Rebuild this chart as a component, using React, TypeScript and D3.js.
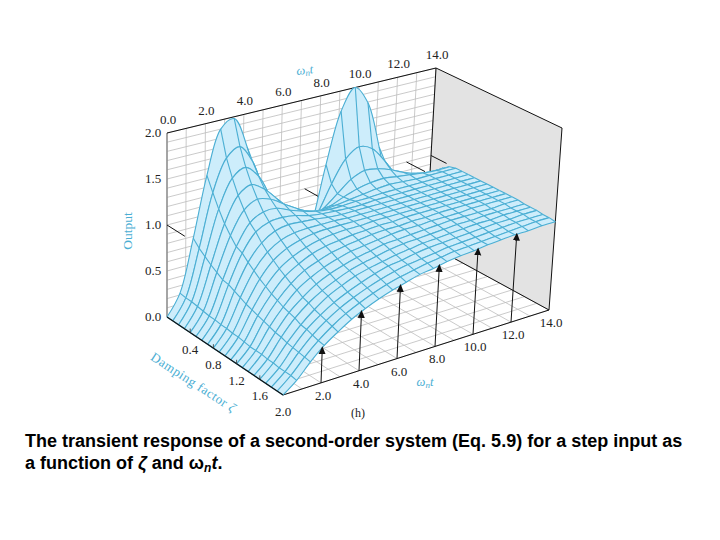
import * as d3 from 'd3';

const timeValues = [0, 0.7, 1.4, 2.1, 2.8, 3.5, 4.2, 4.9, 5.6, 6.3, 7, 7.7, 8.4, 9.1, 9.8, 10.5, 11.2, 11.9, 12.6, 13.3, 14];
const zetaValues = [0, 0.1, 0.2, 0.3, 0.4, 0.5, 0.6, 0.7, 0.8, 0.9, 1, 1.1, 1.2, 1.3, 1.4, 1.5, 1.6, 1.7, 1.8, 1.9, 2];

// one row per damping factor, one value per time step
const outputRows = [
  [0, 0.22, 0.78, 1.43, 1.9, 1.98, 1.63, 1.01, 0.39, 0.03, 0.09, 0.55, 1.21, 1.77, 2, 1.79, 1.25, 0.6, 0.11, 0.02, 0.36],
  [0, 0.21, 0.71, 1.28, 1.62, 1.71, 1.5, 1.08, 0.72, 0.5, 0.52, 0.74, 1.03, 1.27, 1.37, 1.31, 1.13, 0.92, 0.77, 0.73, 0.81],
  [0, 0.21, 0.66, 1.14, 1.44, 1.52, 1.38, 1.1, 0.87, 0.75, 0.74, 0.84, 0.96, 1.08, 1.14, 1.12, 1.07, 1, 0.95, 0.92, 0.93],
  [0, 0.2, 0.61, 1.02, 1.29, 1.37, 1.28, 1.13, 0.98, 0.89, 0.87, 0.9, 0.96, 1.01, 1.04, 1.05, 1.03, 1.01, 0.99, 0.98, 0.98],
  [0, 0.19, 0.57, 0.93, 1.17, 1.25, 1.21, 1.12, 1.03, 0.96, 0.94, 0.95, 0.97, 0.99, 1.01, 1.02, 1.01, 1, 1, 1, 1],
  [0, 0.18, 0.53, 0.85, 1.07, 1.15, 1.15, 1.09, 1.04, 1, 0.98, 0.98, 0.99, 0.99, 1, 1, 1, 1, 1, 1, 1],
  [0, 0.18, 0.52, 0.82, 1.01, 1.08, 1.09, 1.07, 1.03, 1.01, 1, 0.99, 0.99, 1, 1, 1, 1, 1, 1, 1, 1],
  [0, 0.17, 0.49, 0.76, 0.93, 1.02, 1.05, 1.04, 1.03, 1.01, 1, 1, 1, 1, 1, 1, 1, 1, 1, 1, 1],
  [0, 0.17, 0.46, 0.71, 0.87, 0.96, 1, 1.01, 1.01, 1.01, 1, 1, 1, 1, 1, 1, 1, 1, 1, 1, 1],
  [0, 0.16, 0.43, 0.66, 0.82, 0.91, 0.96, 0.99, 1, 1, 1, 1, 1, 1, 1, 1, 1, 1, 1, 1, 1],
  [0, 0.16, 0.41, 0.62, 0.77, 0.86, 0.92, 0.96, 0.98, 0.99, 0.99, 1, 1, 1, 1, 1, 1, 1, 1, 1, 1],
  [0, 0.15, 0.39, 0.58, 0.73, 0.82, 0.89, 0.93, 0.95, 0.97, 0.98, 0.99, 0.99, 1, 1, 1, 1, 1, 1, 1, 1],
  [0, 0.14, 0.37, 0.55, 0.69, 0.79, 0.85, 0.9, 0.93, 0.95, 0.97, 0.98, 0.98, 0.99, 0.99, 1, 1, 1, 1, 1, 1],
  [0, 0.14, 0.35, 0.52, 0.66, 0.75, 0.82, 0.87, 0.91, 0.93, 0.95, 0.97, 0.98, 0.98, 0.99, 0.99, 0.99, 1, 1, 1, 1],
  [0, 0.14, 0.33, 0.5, 0.62, 0.72, 0.79, 0.84, 0.88, 0.91, 0.94, 0.95, 0.96, 0.97, 0.98, 0.99, 0.99, 0.99, 0.99, 1, 1],
  [0, 0.13, 0.32, 0.48, 0.6, 0.69, 0.76, 0.82, 0.86, 0.89, 0.92, 0.94, 0.95, 0.96, 0.97, 0.98, 0.98, 0.99, 0.99, 0.99, 0.99],
  [0, 0.13, 0.3, 0.45, 0.57, 0.67, 0.74, 0.8, 0.84, 0.87, 0.9, 0.92, 0.94, 0.95, 0.96, 0.97, 0.98, 0.98, 0.99, 0.99, 0.99],
  [0, 0.12, 0.29, 0.44, 0.55, 0.64, 0.71, 0.77, 0.82, 0.86, 0.88, 0.91, 0.93, 0.94, 0.95, 0.96, 0.97, 0.98, 0.98, 0.99, 0.99],
  [0, 0.12, 0.28, 0.42, 0.53, 0.62, 0.69, 0.75, 0.8, 0.84, 0.87, 0.89, 0.91, 0.93, 0.94, 0.95, 0.96, 0.97, 0.98, 0.98, 0.98],
  [0, 0.12, 0.27, 0.4, 0.51, 0.6, 0.67, 0.73, 0.78, 0.82, 0.85, 0.88, 0.9, 0.92, 0.93, 0.94, 0.95, 0.96, 0.97, 0.98, 0.98],
  [0, 0.11, 0.26, 0.39, 0.49, 0.58, 0.65, 0.71, 0.76, 0.8, 0.84, 0.86, 0.89, 0.91, 0.92, 0.94, 0.95, 0.96, 0.96, 0.97, 0.97],
];

const topTimeLabels = ['0.0', '2.0', '4.0', '6.0', '8.0', '10.0', '12.0', '14.0'];
const frontTimeLabels = ['2.0', '4.0', '6.0', '8.0', '10.0', '12.0', '14.0'];
const zetaLabels = ['0.4', '0.8', '1.2', '1.6', '2.0'];
const outputLabels = ['0.0', '0.5', '1.0', '1.5', '2.0'];
const arrowTimes = [2, 4, 6, 8, 10, 12];
const zeroLevelMarks = [
  { t: 0, zetaEnd: 0.3 },
  { t: 5.4, zetaEnd: 0.4 },
  { t: 7.3, zetaEnd: 0.25 },
  { t: 12.7, zetaEnd: 0.3 },
  { t: 14, zetaEnd: 0.25 },
];

const width = 720;
const height = 540;
const serif = '"Liberation Serif", serif';
const blue = '#4aaed3';
const fillBlue = '#cdedfb';
const gridGray = '#bcbcbc';

// box corners on screen: [t=0 zeta=0, t=14 zeta=0, t=14 zeta=2, t=0 zeta=2]
const floorQuad = [[167, 317], [426, 243], [549, 310], [283, 395]];
const topQuad = [[167, 133], [436, 68], [562, 128], [289, 205]];

const tScale = d3.scaleLinear([0, 14], [0, 1]);
const zetaScale = d3.scaleLinear([0, 2], [0, 1]);
const zScale = d3.scaleLinear([0, 2], [0, 1]);

function onQuad(q: number[][], u: number, v: number, i: number) {
  return (
    q[0][i] * (1 - u) * (1 - v) + q[1][i] * u * (1 - v) + q[2][i] * u * v + q[3][i] * (1 - u) * v
  );
}

function project(t: number, zeta: number, z: number): [number, number] {
  const u = tScale(t);
  const v = zetaScale(zeta);
  const w = zScale(z);
  return [
    onQuad(floorQuad, u, v, 0) * (1 - w) + onQuad(topQuad, u, v, 0) * w,
    onQuad(floorQuad, u, v, 1) * (1 - w) + onQuad(topQuad, u, v, 1) * w,
  ];
}

const smooth = d3.line().curve(d3.curveCatmullRom.alpha(0.5));
const rowPoints = outputRows.map((row, i) =>
  row.map((z, j) => project(timeValues[j], zetaValues[i], z))
);
const frontOutput = d3.scaleLinear(timeValues, outputRows[outputRows.length - 1]);

function seg(a: [number, number], b: [number, number], stroke: string, w = 1, key?: string) {
  return <line key={key} x1={a[0]} y1={a[1]} x2={b[0]} y2={b[1]} stroke={stroke} strokeWidth={w} />;
}

export default function App() {
  const wallLevels = d3.range(0, 21).map((d) => d / 10);
  const wallTimes = d3.range(0, 15);
  const floorZetas = d3.range(0, 11).map((d) => d / 5);

  return (
    <svg
      width={width}
      height={height}
      style={{ position: 'absolute', left: 0, top: 0, background: 'white' }}
    >
      <defs>
        <marker id="arrow" viewBox="0 0 10 10" refX="8" refY="5" markerWidth="8" markerHeight="8" orient="auto">
          <path d="M 0 0.5 L 10 5 L 0 9.5 z" fill="#111" />
        </marker>
      </defs>

      {/* right wall */}
      <path
        d={`M${project(14, 0, 2)}L${project(14, 2, 2)}L${project(14, 2, 0)}L${project(14, 0, 0)}Z`}
        fill="#e3e3e3"
      />

      {/* back wall grid */}
      <g>
        {wallLevels.map((z) =>
          seg(project(0, 0, z), project(14, 0, z), gridGray, 0.8, `l${z}`)
        )}
        {wallTimes.map((t) => seg(project(t, 0, 0), project(t, 0, 2), gridGray, 0.8, `v${t}`))}
      </g>

      {/* floor grid */}
      <g>
        {wallTimes.map((t) => seg(project(t, 0, 0), project(t, 2, 0), gridGray, 0.8, `ft${t}`))}
        {floorZetas.map((q) => seg(project(0, q, 0), project(14, q, 0), gridGray, 0.8, `fz${q}`))}
      </g>

      {/* box edges behind the surface */}
      {seg(project(0, 0, 0), project(0, 0, 2), '#8a8a8a', 1.4)}
      {seg(project(0, 0, 2), project(14, 0, 2), '#111', 1)}
      {seg(project(14, 0, 2), project(14, 2, 2), '#111', 1)}
      {seg(project(14, 2, 2), project(14, 2, 0), '#111', 1)}
      {seg(project(14, 0, 2), project(14, 0, 0), '#111', 1)}
      {seg(project(14, 2, 0), project(14, 0, 0), '#111', 1)}
      {seg(project(0, 2, 0), project(14, 2, 0), '#111', 1)}
      {zeroLevelMarks.map((d) =>
        seg(project(d.t, 0, 1), project(d.t, d.zetaEnd, 1), '#111', 1, `m${d.t}`)
      )}

      {/* surface, strip by strip from the back */}
      <g>
        {rowPoints.slice(0, -1).map((row, i) => {
          const next = rowPoints[i + 1];
          const upper = smooth(row) ?? '';
          const lower = smooth([...next].reverse()) ?? '';
          return (
            <g key={i}>
              <path d={`${upper}L${lower.slice(1)}Z`} fill={fillBlue} stroke={fillBlue} strokeWidth={0.4} />
              {row.map((p, j) => seg(p, next[j], blue, 1.1, `c${j}`))}
              <path d={upper} fill="none" stroke={blue} strokeWidth={1.1} />
              <path d={smooth(next) ?? ''} fill="none" stroke={blue} strokeWidth={1.1} />
            </g>
          );
        })}
      </g>

      {/* damping axis and arrows in front */}
      {seg(project(0, 0, 0), project(0, 2, 0), '#111', 1.2)}
      {[0.4, 0.8, 1.2, 1.6].map((q) => seg(project(0, q, 0), [project(0, q, 0)[0], project(0, q, 0)[1] - 4], '#333', 0.8, `zt${q}`))}
      {arrowTimes.map((t) => {
        const [x1, y1] = project(t, 2, 0);
        const [x2, y2] = project(t, 2, frontOutput(t));
        return (
          <line key={t} x1={x1} y1={y1} x2={x2} y2={y2} stroke="#111" strokeWidth={1} markerEnd="url(#arrow)" />
        );
      })}

      {/* labels */}
      <g fontFamily={serif} fontSize={13} fill="#222" textAnchor="middle">
        {topTimeLabels.map((s, i) => {
          const [x, y] = project(i * 2, 0, 2);
          return (
            <text key={s} x={x + 1} y={y - 9}>
              {s}
            </text>
          );
        })}
        {frontTimeLabels.map((s, i) => {
          const [x, y] = project((i + 1) * 2, 2, 0);
          return (
            <text key={s} x={x + 2} y={y + 17}>
              {s}
            </text>
          );
        })}
        {zetaLabels.map((s, i) => {
          const [x, y] = project(0, (i + 1) * 0.4, 0);
          return (
            <text key={s} x={x} y={y + 21}>
              {s}
            </text>
          );
        })}
        {outputLabels.map((s, i) => {
          const [x, y] = project(0, 0, i * 0.5);
          return (
            <text key={s} x={x - 14} y={y + 4}>
              {s}
            </text>
          );
        })}
        <text x={358} y={417} fontSize={12}>
          (h)
        </text>
      </g>

      <g fontFamily={serif} fill={blue}>
        <text transform="translate(132,231) rotate(-90)" textAnchor="middle" fontSize={13.5}>
          Output
        </text>
        <text transform="translate(191,386) rotate(33)" textAnchor="middle" fontSize={13} letterSpacing={0.5}>
          Damping factor <tspan fontStyle="italic">ζ</tspan>
        </text>
        <text transform="translate(305,74) rotate(-6)" textAnchor="middle" fontSize={12.5} fontStyle="italic">
          ω<tspan fontSize={9} dy={2}>n</tspan>
          <tspan dy={-2}>t</tspan>
        </text>
        <text x={425} y={386} textAnchor="middle" fontSize={12.5} fontStyle="italic">
          ω<tspan fontSize={9} dy={2}>n</tspan>
          <tspan dy={-2}>t</tspan>
        </text>
      </g>

      {/* caption */}
      <g fontFamily={'"Liberation Sans", Arial, sans-serif'} fontWeight={700} fontSize={18} fill="#000">
        <text x={25} y={447}>
          The transient response of a second-order system (Eq. 5.9) for a step input as
        </text>
        <text x={25} y={469}>
          a function of <tspan fontStyle="italic">ζ</tspan> and ω
          <tspan fontSize={12} dy={3} fontStyle="italic">n</tspan>
          <tspan dy={-3} fontStyle="italic">t</tspan>.
        </text>
      </g>
    </svg>
  );
}
